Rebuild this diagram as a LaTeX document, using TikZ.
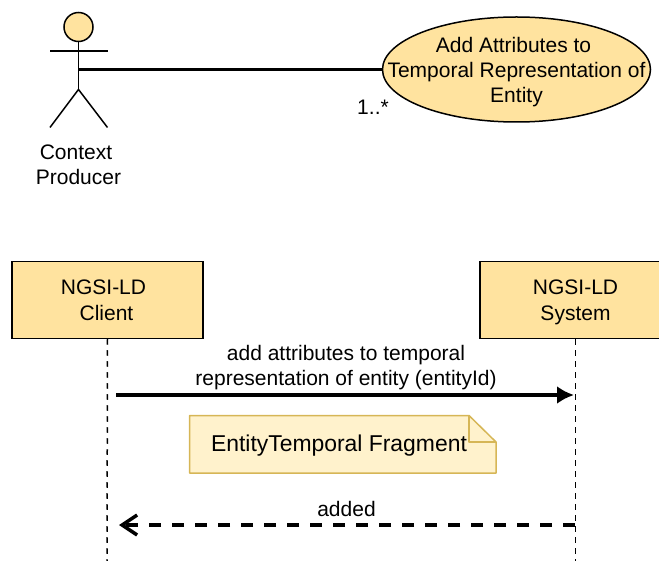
\documentclass[tikz,border=0pt]{standalone}
\usepackage{fontspec}
\setmainfont{Liberation Sans}
\usetikzlibrary{shapes.geometric,arrows.meta}
\definecolor{fillY}{HTML}{FFE39F}
\definecolor{noteF}{HTML}{FFF2CC}
\definecolor{noteD}{HTML}{D6B656}
\tikzset{
 x=1pt,y=-1pt,
 lbl/.style={font=\fontsize{21}{25}\selectfont,align=center,text=black,inner sep=0pt},
 sbox/.style={draw=black,line width=1.5pt,fill=fillY,minimum width=191pt,minimum height=77pt,inner sep=0pt,align=center,font=\fontsize{21}{26}\selectfont},
 life/.style={draw=black,line width=1.5pt,dash pattern=on 5.5pt off 5.5pt},
 thick line/.style={draw=black,line width=3.5pt},
 stick/.style={draw=black,line width=1.5pt}
}
\begin{document}
\begin{tikzpicture}
\useasboundingbox (0,0) rectangle (659,561);
% actor
\node[circle,draw=black,line width=1.5pt,fill=fillY,minimum size=29pt,inner sep=0pt] (head) at (78.5,27) {};
\coordinate (hip) at (78.5,89.5);
\coordinate (armL) at (50,51);
\coordinate (armR) at (107.5,51);
\coordinate (footL) at (50,127.5);
\coordinate (footR) at (107.5,127.5);
\coordinate (mid) at (78.5,69.5);
\draw[stick] (head.south) -- (hip);
\draw[stick] (armL) -- (armR);
\draw[stick] (footL) -- (hip) -- (footR);
\node[lbl] (actorlabel) at (78.5,165) {Context\kern5pt\\Producer};
% use case
\node[ellipse,draw=black,line width=1.5pt,fill=fillY,minimum width=268pt,minimum height=105pt,inner sep=0pt] (uc) at (516.5,69.5) {};
\node[lbl] (uctext) at (516.5,72) {Add Attributes to\kern6pt\\Temporal Representation of\\Entity};
\draw[thick line] (mid) -- (uc.west);
\node[lbl] (mult) at (373,107.5) {1..*};
% lifelines
\node[sbox] (client) at (107.5,300) {\rule{0pt}{21pt}NGSI-LD\kern8pt\\Client\kern2pt\rule[-6pt]{0pt}{1pt}};
\node[sbox] (system) at (575.5,300) {\rule{0pt}{21pt}NGSI-LD\\System\rule[-6pt]{0pt}{1pt}};
\coordinate (clientEnd) at (107,561);
\coordinate (systemEnd) at (575.5,561);
\draw[life] (client.south) -- (clientEnd);
\draw[life] (system.south) -- (systemEnd);
% messages
\coordinate (reqStart) at (116,395);
\coordinate (reqEnd) at (574,395);
\draw[thick line,-{Latex[length=17pt,width=18pt]}] (reqStart) -- (reqEnd);
\node[lbl] (reqlabel) at (346,368) {add attributes to temporal\\representation of entity (entityId)};
\coordinate (respStart) at (575,525);
\coordinate (respEnd) at (119,525);
\draw[thick line,dash pattern=on 12pt off 11pt,-{Straight Barb[length=15pt,width=20pt]}] (respStart) -- (respEnd);
\node[lbl] (resplabel) at (346.5,509) {added};
% note
\filldraw[draw=noteD,fill=noteF,line width=1.5pt,line join=round] (189.5,415.5) -- (469,415.5) -- (496,442) -- (496,473) -- (189.5,473) -- cycle;
\draw[draw=noteD,line width=1.5pt,line join=round] (469,415.5) -- (469,442) -- (496,442);
\node[lbl,font=\fontsize{22.9}{27}\selectfont] (notetext) at (339,446) {EntityTemporal Fragment};
\end{tikzpicture}
\end{document}
